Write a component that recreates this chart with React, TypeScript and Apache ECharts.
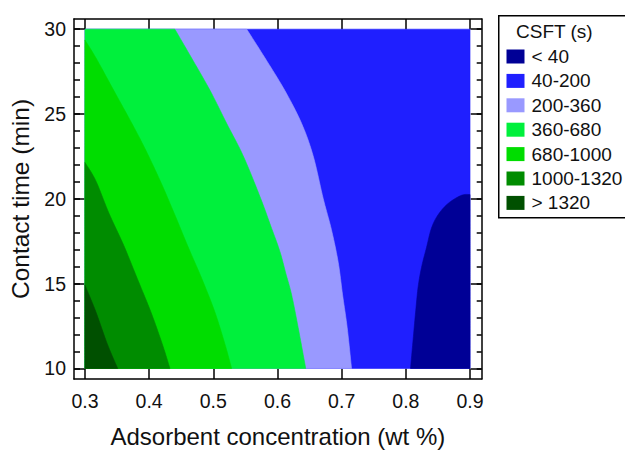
import React, { useEffect, useRef } from "react";
import * as echarts from "echarts";

// ---- axis ticks ----
const xTicks = [0.3, 0.4, 0.5, 0.6, 0.7, 0.8, 0.9];
const yMajorTicks = [10, 15, 20, 25, 30];
const yMinorTicks = [10, 11, 12, 13, 14, 15, 16, 17, 18, 19, 20, 21, 22, 23, 24, 25, 26, 27, 28, 29, 30];

// ---- legend classes ----
const classNames = ["< 40", "40-200", "200-360", "360-680", "680-1000", "1000-1320", "> 1320"];
const classColors = ["#000096", "#1f1fff", "#9999ff", "#00f03c", "#00dd00", "#008c00", "#005000"];

// ---- contour boundaries: [adsorbent wt%, contact time min] ----
const bound40 = [
  [0.9, 20.25], [0.8868, 20.21], [0.8659, 19.73], [0.8503, 19.06], [0.84, 18.28],
  [0.8322, 17.13], [0.8245, 15.97], [0.8192, 14.82], [0.8151, 13.28], [0.8114, 11.73], [0.8073, 10],
];
const bound200 = [
  [0.552, 30], [0.5804, 28.31], [0.6115, 26.38], [0.6375, 24.45], [0.6556, 22.53],
  [0.6712, 20.02], [0.684, 18.19], [0.6946, 16.26], [0.7014, 14.34], [0.7086, 12.41], [0.7154, 10],
];
const bound360 = [
  [0.44, 30], [0.466, 28.31], [0.495, 26.38], [0.5207, 24.45], [0.5466, 22.53], [0.5735, 20.05],
  [0.5895, 18.4], [0.6037, 16.9], [0.613, 15.6], [0.622, 14.34], [0.6322, 12.41], [0.644, 10],
];
const bound680 = [
  [0.3, 29.36], [0.317, 28.31], [0.345, 26.38], [0.373, 24.45], [0.393, 23.0], [0.417, 21.08],
  [0.439, 19.15], [0.46, 17.23], [0.482, 15.3], [0.502, 13.37], [0.518, 11.45], [0.5285, 10],
];
const bound1000 = [
  [0.3, 22.14], [0.3167, 21.08], [0.3374, 19.15], [0.3607, 17.23], [0.3815, 15.3],
  [0.4023, 13.37], [0.4204, 11.45], [0.4324, 10],
];
const bound1320 = [
  [0.3, 14.91], [0.3167, 13.37], [0.3348, 11.45], [0.351, 10],
];

// data extent of the response surface
const xRange = [0.3, 0.9];
const yRange = [10, 30];

const FONT = "'Liberation Sans', Arial, Helvetica, sans-serif";

// smooth rendering of a boundary polyline (Catmull-Rom through the given pixel points)
function smoothPixels(pts: number[][], steps = 10): number[][] {
  if (pts.length < 3) return pts;
  const out: number[][] = [];
  for (let i = 0; i < pts.length - 1; i++) {
    const p0 = pts[Math.max(0, i - 1)];
    const p1 = pts[i];
    const p2 = pts[i + 1];
    const p3 = pts[Math.min(pts.length - 1, i + 2)];
    for (let s = 0; s < steps; s++) {
      const t = s / steps;
      const t2 = t * t;
      const t3 = t2 * t;
      const f = (a: number, b: number, c: number, d: number) =>
        0.5 * (2 * b + (-a + c) * t + (2 * a - 5 * b + 4 * c - d) * t2 + (-a + 3 * b - 3 * c + d) * t3);
      out.push([f(p0[0], p1[0], p2[0], p3[0]), f(p0[1], p1[1], p2[1], p3[1])]);
    }
  }
  out.push(pts[pts.length - 1]);
  return out;
}

export default function App() {
  const ref = useRef<HTMLDivElement>(null);

  useEffect(() => {
    document.body.style.margin = "0";
    if (!ref.current) return;
    const chart = echarts.init(ref.current, null, { renderer: "svg" });

    const [x0, x1] = xRange;
    const [y0, y1] = yRange;
    // each region: corners before the boundary, the boundary, corners after
    const regions: Record<string, { pre: number[][]; curve: number[][]; post: number[][] }> = {
      "40-200": { pre: [], curve: [[x0, y0], [x1, y0], [x1, y1], [x0, y1]], post: [] },
      "< 40": { pre: [], curve: bound40, post: [[x1, y0]] },
      "200-360": { pre: [[x0, y1]], curve: bound200, post: [[x0, y0]] },
      "360-680": { pre: [[x0, y1]], curve: bound360, post: [[x0, y0]] },
      "680-1000": { pre: [], curve: bound680, post: [[x0, y0]] },
      "1000-1320": { pre: [], curve: bound1000, post: [[x0, y0]] },
      "> 1320": { pre: [], curve: bound1320, post: [[x0, y0]] },
    };
    const paintOrder = ["40-200", "< 40", "200-360", "360-680", "680-1000", "1000-1320", "> 1320"];

    const series = paintOrder.map((name) => {
      const reg = regions[name];
      const color = classColors[classNames.indexOf(name)];
      const isRect = name === "40-200";
      return {
        type: "custom",
        name,
        xAxisIndex: 0,
        yAxisIndex: 0,
        clip: false,
        itemStyle: { color },
        data: reg.curve.map((p) => [p[0], p[1]]),
        renderItem: (params: any, api: any) => {
          if (params.dataIndex !== 0) return null;
          const pre = reg.pre.map((p) => api.coord(p));
          const curvePx = reg.curve.map((p) => api.coord(p));
          const curve = isRect ? curvePx : smoothPixels(curvePx);
          const post = reg.post.map((p) => api.coord(p));
          return {
            type: "polygon",
            shape: { points: [...pre, ...curve, ...post] },
            style: { fill: color, stroke: color, lineWidth: 0.6 },
          };
        },
      };
    });

    const xMin = 0.2829;
    const xMax = 0.9182;
    const yMin = 9.38;
    const yMax = 30.6;
    const lineStyle = { color: "#000", width: 1.5 };

    chart.setOption({
      animation: false,
      grid: { left: 74, top: 19, right: 143.3, bottom: 67.3, containLabel: false },
      legend: {
        orient: "vertical",
        left: 506.5,
        top: 47,
        padding: 0,
        itemGap: 5.4,
        itemWidth: 18,
        itemHeight: 14,
        icon: "rect",
        selectedMode: false,
        data: classNames,
        textStyle: { fontSize: 19, color: "#111", fontFamily: FONT, padding: [0, 0, 0, 2], lineHeight: 19 },
      },
      xAxis: [
        {
          type: "value",
          position: "bottom",
          min: xMin,
          max: xMax,
          splitLine: { show: false },
          axisLine: { show: true, lineStyle },
          axisTick: { show: true, inside: true, length: 10.5, customValues: xTicks, lineStyle },
          axisLabel: {
            customValues: xTicks,
            formatter: (v: number) => v.toFixed(1),
            fontSize: 19.5,
            color: "#111",
            fontFamily: FONT,
            margin: 12,
          },
          name: "Adsorbent concentration (wt %)",
          nameLocation: "middle",
          nameGap: 45,
          nameTextStyle: { fontSize: 24, color: "#111", fontFamily: FONT },
        },
        {
          type: "value",
          position: "top",
          min: xMin,
          max: xMax,
          splitLine: { show: false },
          axisLine: { show: true, lineStyle },
          axisTick: { show: true, inside: true, length: 10.5, customValues: xTicks, lineStyle },
          axisLabel: { show: false },
        },
      ],
      yAxis: [
        {
          type: "value",
          position: "left",
          min: yMin,
          max: yMax,
          splitLine: { show: false },
          axisLine: { show: true, lineStyle },
          axisTick: { show: true, inside: true, length: 11, customValues: yMajorTicks, lineStyle },
          axisLabel: {
            customValues: yMajorTicks,
            fontSize: 19.5,
            color: "#111",
            fontFamily: FONT,
            margin: 8,
          },
          name: "Contact time (min)",
          nameLocation: "middle",
          nameGap: 37,
          nameRotate: 90,
          nameTextStyle: { fontSize: 24.5, color: "#111", fontFamily: FONT },
        },
        {
          type: "value",
          position: "left",
          min: yMin,
          max: yMax,
          splitLine: { show: false },
          axisLine: { show: false },
          axisTick: { show: true, inside: true, length: 6, customValues: yMinorTicks, lineStyle },
          axisLabel: { show: false },
        },
        {
          type: "value",
          position: "right",
          min: yMin,
          max: yMax,
          splitLine: { show: false },
          axisLine: { show: true, lineStyle },
          axisTick: { show: true, inside: true, length: 11, customValues: yMajorTicks, lineStyle },
          axisLabel: { show: false },
        },
        {
          type: "value",
          position: "right",
          min: yMin,
          max: yMax,
          splitLine: { show: false },
          axisLine: { show: false },
          axisTick: { show: true, inside: true, length: 5, customValues: yMinorTicks, lineStyle },
          axisLabel: { show: false },
        },
      ],
      graphic: [
        {
          type: "rect",
          left: 498,
          top: 15,
          z: -1,
          shape: { x: 0, y: 0, width: 140, height: 202 },
          style: { fill: "#fff", stroke: "#000", lineWidth: 1.5 },
        },
        {
          type: "text",
          left: 516,
          top: 22,
          style: { text: "CSFT (s)", fontSize: 19, fill: "#111", fontFamily: FONT },
        },
      ],
      series,
    });

    return () => {
      chart.dispose();
    };
  }, []);

  return <div ref={ref} style={{ width: 625, height: 453 }} />;
}
